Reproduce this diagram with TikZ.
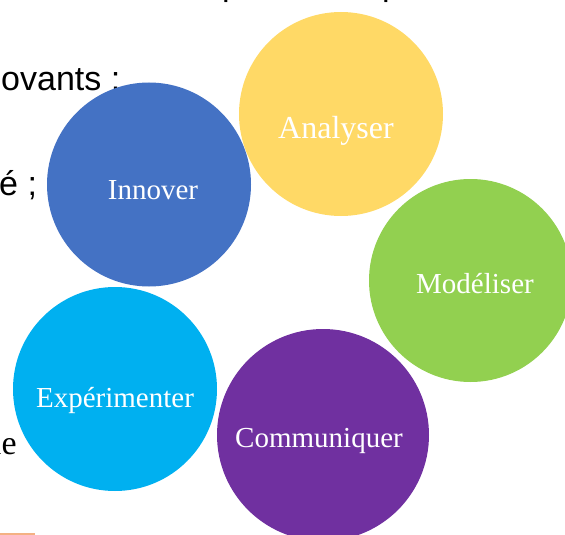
\documentclass[tikz,border=0pt]{standalone}
\usepackage{fontspec}
\setmainfont{Liberation Serif}
\newfontfamily\bgsans{Liberation Sans}
\definecolor{cAna}{HTML}{FFD966}
\definecolor{cInn}{HTML}{4472C4}
\definecolor{cMod}{HTML}{92D050}
\definecolor{cExp}{HTML}{00B0F0}
\definecolor{cCom}{HTML}{7030A0}
\definecolor{cRule}{HTML}{F4B183}
\begin{document}
\begin{tikzpicture}[x=1pt,y=-1pt,
  bubble/.style={circle, inner sep=0pt, draw=none, minimum size=#1},
  bubble/.default=204pt,
  lbl/.style={text=white, font=\fontsize{29}{34}\selectfont, anchor=base, inner sep=0pt},
  frag/.style={font=\bgsans\fontsize{34}{40}\selectfont, anchor=base west, inner sep=0pt},
  fragserif/.style={font=\fontsize{34}{40}\selectfont, anchor=base west, inner sep=0pt},
  rulestyle/.style={draw=cRule, line width=1.5pt}]
\useasboundingbox (0,0) rectangle (565,535);
\clip (0,0) rectangle (565,535);
% background text fragments
\node[frag] (p1) at (222,-4) {p};
\node[frag] (p2) at (382,-4) {p};
\node[frag] (f1) at (1,90) {ovants ;};
\node[frag] (f2) at (-1,195) {é ;};
\node[fragserif] (f3) at (-8,454) {le};
\coordinate (r1) at (0,534);
\coordinate (r2) at (35,534);
\draw[rulestyle] (r1) -- (r2);
% circles
\node[bubble, fill=cAna] (ana) at (341,114) {};
\node[bubble, fill=cInn] (inn) at (149,184.5) {};
\node[bubble=203pt, fill=cMod] (mod) at (470.5,280.5) {};
\node[bubble, fill=cExp] (exp) at (115,389) {};
\node[bubble=212pt, fill=cCom] (com) at (323,435) {};
% labels
\node[lbl, font=\fontsize{32}{36}\selectfont] (anaT) at ([xshift=-5pt,yshift=-24pt]ana.center) {Analyser};
\node[lbl] (innT) at ([xshift=4pt,yshift=-14.5pt]inn.center) {Innover};
\node[lbl] (modT) at ([xshift=4.5pt,yshift=-12.5pt]mod.center) {Modéliser};
\node[lbl] (expT) at ([yshift=-18pt]exp.center) {Expérimenter};
\node[lbl] (comT) at ([xshift=-4pt,yshift=-12pt]com.center) {Communiquer};
\end{tikzpicture}
\end{document}
